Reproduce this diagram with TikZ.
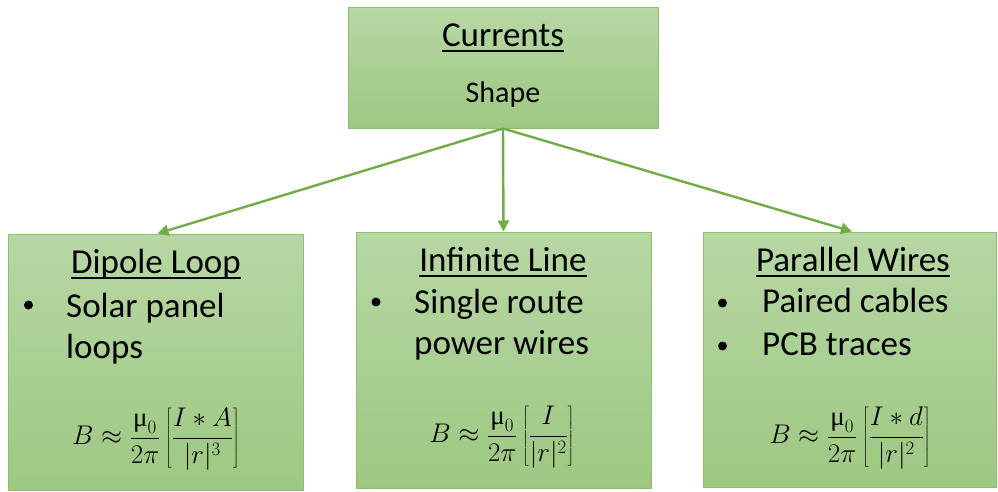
\documentclass[tikz,border=0pt]{standalone}
\usepackage{fix-cm}
\usepackage{fontspec}
\setmainfont{Carlito}
\newfontfamily\mufont{Liberation Serif}
\usetikzlibrary{arrows.meta}
\definecolor{gtop}{HTML}{B7D7A4}
\definecolor{gbot}{HTML}{9DC882}
\definecolor{gborder}{HTML}{8DBF6C}
\definecolor{garrow}{HTML}{70AD47}
\newcommand{\mymu}{\mbox{\mufont μ}}
\tikzset{
  box/.style={draw=gborder, line width=1pt, top color=gtop, bottom color=gbot, minimum width=#1, inner sep=0pt},
  ttl/.style={inner sep=0pt, anchor=base, font=\fontsize{35}{42}\selectfont},
  body/.style={inner sep=0pt, anchor=base west, font=\fontsize{35}{42}\selectfont},
  bul/.style={circle, fill=black, inner sep=0pt, minimum size=9pt},
  eqn/.style={inner sep=0pt, anchor=center, font=\fontsize{27}{32}\selectfont},
  uline/.style={line width=1.6pt, black},
  conn/.style={draw=garrow, line width=2.4pt, -{Triangle[length=11pt,width=11pt]}}
}
\begin{document}
\begin{tikzpicture}[x=1pt,y=-1pt]
\useasboundingbox (0,0) rectangle (998,491);
% boxes
\node[box=310pt, minimum height=121pt] (top) at (503,67.5) {};
\node[box=295pt, minimum height=256pt] (left) at (155.5,362) {};
\node[box=295pt, minimum height=256pt] (mid) at (503.5,360) {};
\node[box=293pt, minimum height=255pt] (right) at (850,359.5) {};
% top box text
\node[ttl] (cur) at (503,46) {Currents};
\draw[uline] ([yshift=-5pt]cur.base west) -- ([yshift=-5pt]cur.base east);
\node[ttl, font=\fontsize{30}{36}\selectfont] (shape) at (503,102) {Shape};
% left box
\node[ttl] (dl) at (156,273) {Dipole Loop};
\draw[uline] ([yshift=-5pt]dl.base west) -- ([yshift=-5pt]dl.base east);
\node[bul] (lb1) at (28.5,305) {};
\node[body] (l1) at (66,317) {Solar panel};
\node[body] (l2) at (66,358) {loops};
\node[eqn] (leq) at (156,439) {$\displaystyle B\approx\frac{\mymu_0}{2\pi}\left[\frac{I\ast A}{|r|^3}\right]$};
% middle box
\node[ttl] (il) at (503,271) {Infinite Line};
\draw[uline] ([yshift=-5pt]il.base west) -- ([yshift=-5pt]il.base east);
\node[bul] (mb1) at (376,302) {};
\node[body] (m1) at (414,313) {Single route};
\node[body] (m2) at (414,354) {power wires};
\node[eqn] (meq) at (502,437) {$\displaystyle B\approx\frac{\mymu_0}{2\pi}\left[\frac{I}{|r|^2}\right]$};
% right box
\node[ttl] (pw) at (853,271) {Parallel Wires};
\draw[uline] ([yshift=-5pt]pw.base west) -- ([yshift=-5pt]pw.base east);
\node[bul] (rb1) at (722.5,303) {};
\node[bul] (rb2) at (722.5,346) {};
\node[body] (r1) at (762,312) {Paired cables};
\node[body] (r2) at (762,355) {PCB traces};
\node[eqn] (req) at (850,438) {$\displaystyle B\approx\frac{\mymu_0}{2\pi}\left[\frac{I\ast d}{|r|^2}\right]$};
% connectors
\draw[conn] (top.south) -- ([xshift=2pt]left.north);
\draw[conn] (top.south) -- (mid.north);
\draw[conn] (top.south) -- ([xshift=2pt]right.north);
\end{tikzpicture}
\end{document}
